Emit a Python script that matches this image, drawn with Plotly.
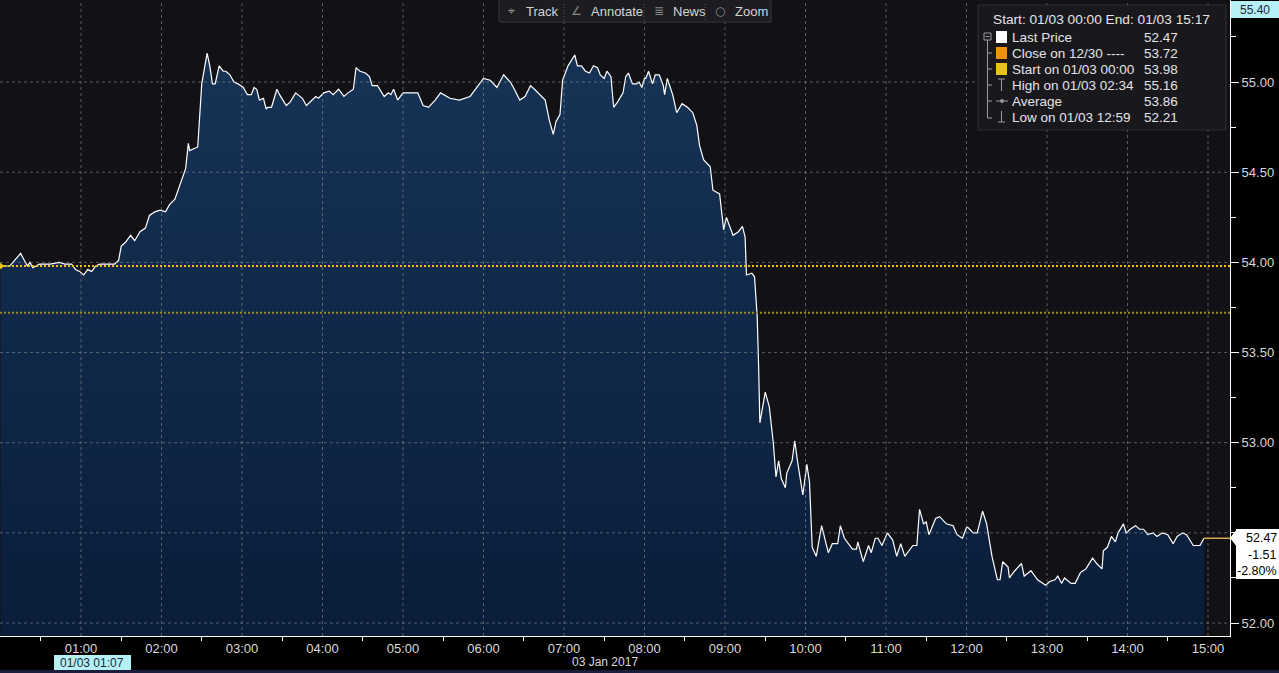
import plotly.graph_objects as go

DAY = "2017-01-03"

times = [
    "00:00", "00:07", "00:15", "00:20", "00:22", "00:24", "00:29", "00:37", "00:44", "00:48",
    "00:53", "00:56", "00:59", "01:02", "01:05", "01:08", "01:11", "01:14", "01:19", "01:25",
    "01:28", "01:30", "01:33", "01:37", "01:40", "01:44", "01:48", "01:51", "01:55", "01:59",
    "02:03", "02:06", "02:10", "02:14", "02:18", "02:20", "02:21", "02:27", "02:30", "02:34",
    "02:36", "02:38", "02:40", "02:43", "02:46", "02:48", "02:51", "02:54", "02:57", "03:01",
    "03:04", "03:07", "03:09", "03:11", "03:13", "03:16", "03:18", "03:19", "03:22", "03:26",
    "03:28", "03:33", "03:36", "03:40", "03:45", "03:48", "03:52", "03:55", "03:57", "04:01",
    "04:05", "04:08", "04:12", "04:16", "04:19", "04:23", "04:25", "04:28", "04:32", "04:35",
    "04:37", "04:41", "04:46", "04:49", "04:51", "04:53", "04:56", "05:00", "05:04", "05:07",
    "05:11", "05:15", "05:19", "05:24", "05:28", "05:35", "05:42", "05:50", "05:56", "06:00",
    "06:05", "06:10", "06:15", "06:20", "06:23", "06:27", "06:31", "06:35", "06:38", "06:42",
    "06:46", "06:49", "06:52", "06:54", "06:57", "06:59", "07:03", "07:08", "07:10", "07:13",
    "07:16", "07:19", "07:22", "07:25", "07:27", "07:30", "07:32", "07:35", "07:37", "07:40",
    "07:44", "07:46", "07:48", "07:51", "07:54", "07:56", "07:58", "08:00", "08:01", "08:03",
    "08:06", "08:08", "08:11", "08:14", "08:15", "08:17", "08:19", "08:21", "08:24", "08:28",
    "08:32", "08:36", "08:39", "08:41", "08:44", "08:49", "08:51", "08:56", "08:59", "09:01",
    "09:06", "09:10", "09:13", "09:15", "09:16", "09:20", "09:22", "09:24", "09:25", "09:26",
    "09:30", "09:33", "09:36", "09:38", "09:40", "09:42", "09:45", "09:46", "09:50", "09:52",
    "09:54", "09:58", "10:01", "10:03", "10:05", "10:08", "10:12", "10:17", "10:20", "10:24",
    "10:26", "10:29", "10:35", "10:38", "10:39", "10:43", "10:47", "10:49", "10:52", "10:54",
    "10:57", "11:01", "11:05", "11:08", "11:11", "11:14", "11:20", "11:23", "11:25", "11:28",
    "11:30", "11:32", "11:37", "11:40", "11:45", "11:50", "11:53", "11:57", "12:00", "12:01",
    "12:05", "12:08", "12:12", "12:15", "12:19", "12:23", "12:25", "12:27", "12:31", "12:32",
    "12:36", "12:41", "12:43", "12:48", "12:53", "12:59", "13:02", "13:06", "13:08", "13:11",
    "13:13", "13:18", "13:21", "13:25", "13:29", "13:34", "13:37", "13:41", "13:42", "13:45",
    "13:48", "13:51", "13:53", "13:57", "13:59", "14:02", "14:06", "14:09", "14:12", "14:15",
    "14:19", "14:22", "14:26", "14:30", "14:34", "14:37", "14:41", "14:44", "14:49", "14:54",
    "14:57",
]

prices = [
    53.98, 53.98, 54.05, 53.98, 54.00, 53.97, 53.99, 53.99, 54.00, 53.99,
    53.99, 53.96, 53.95, 53.93, 53.96, 53.95, 53.98, 53.99, 53.99, 53.99,
    54.01, 54.09, 54.11, 54.15, 54.12, 54.17, 54.19, 54.26, 54.28, 54.29,
    54.28, 54.32, 54.35, 54.43, 54.52, 54.66, 54.62, 54.64, 54.99, 55.16,
    55.09, 54.99, 54.99, 55.09, 55.06, 55.06, 55.04, 55.00, 54.99, 54.97,
    54.93, 54.93, 54.97, 54.96, 54.90, 54.91, 54.85, 54.86, 54.86, 54.96,
    54.93, 54.87, 54.89, 54.94, 54.91, 54.87, 54.90, 54.92, 54.91, 54.94,
    54.95, 54.93, 54.96, 54.92, 54.94, 54.96, 55.08, 55.06, 55.05, 55.03,
    54.98, 54.98, 54.92, 54.94, 54.93, 54.96, 54.90, 54.94, 54.94, 54.94,
    54.94, 54.87, 54.86, 54.90, 54.94, 54.91, 54.90, 54.92, 54.98, 55.02,
    55.01, 54.97, 55.04, 55.00, 54.96, 54.90, 54.92, 54.98, 54.96, 54.93,
    54.90, 54.79, 54.71, 54.78, 54.82, 55.01, 55.09, 55.15, 55.09, 55.09,
    55.06, 55.05, 55.09, 55.08, 55.04, 55.02, 55.06, 55.03, 54.86, 54.89,
    54.94, 55.03, 55.05, 54.99, 54.99, 55.00, 54.97, 55.02, 55.02, 55.06,
    54.99, 55.04, 55.04, 54.98, 54.93, 55.02, 54.97, 54.93, 54.83, 54.88,
    54.86, 54.83, 54.76, 54.65, 54.57, 54.53, 54.40, 54.38, 54.18, 54.25,
    54.15, 54.17, 54.20, 54.14, 53.93, 53.94, 53.92, 53.70, 53.44, 53.11,
    53.28, 53.20, 53.00, 52.81, 52.90, 52.80, 52.75, 52.83, 52.90, 53.01,
    52.90, 52.71, 52.88, 52.78, 52.42, 52.37, 52.54, 52.39, 52.44, 52.44,
    52.54, 52.47, 52.41, 52.41, 52.45, 52.34, 52.43, 52.39, 52.47, 52.47,
    52.43, 52.50, 52.46, 52.37, 52.44, 52.37, 52.43, 52.43, 52.63, 52.55,
    52.56, 52.49, 52.58, 52.59, 52.55, 52.54, 52.49, 52.47, 52.53, 52.53,
    52.50, 52.50, 52.62, 52.55, 52.37, 52.24, 52.24, 52.34, 52.31, 52.25,
    52.29, 52.33, 52.26, 52.29, 52.24, 52.21, 52.23, 52.24, 52.26, 52.22,
    52.25, 52.22, 52.22, 52.28, 52.30, 52.36, 52.33, 52.30, 52.40, 52.42,
    52.48, 52.45, 52.50, 52.55, 52.50, 52.52, 52.54, 52.52, 52.52, 52.49,
    52.50, 52.48, 52.50, 52.49, 52.44, 52.48, 52.50, 52.49, 52.43, 52.43,
    52.47,
]

last_price = 52.47
net_change = "-1.51"
pct_change = "-2.80%"
prev_close = 53.72
start_price = 53.98
range_top_label = "55.40"

hour_ticks = ["01:00", "02:00", "03:00", "04:00", "05:00", "06:00", "07:00", "08:00",
              "09:00", "10:00", "11:00", "12:00", "13:00", "14:00", "15:00"]
half_hour_ticks = ["00:30", "01:30", "02:30", "03:30", "04:30", "05:30", "06:30", "07:30",
                   "08:30", "09:30", "10:30", "11:30", "12:30", "13:30", "14:30"]
price_ticks = [52.0, 52.5, 53.0, 53.5, 54.0, 54.5, 55.0]
price_tick_text = ["52.00", "", "53.00", "53.50", "54.00", "54.50", "55.00"]  # 52.50 hidden by last-price tag

legend_header = "Start: 01/03 00:00 End: 01/03 15:17"
legend_labels = ["Last Price", "Close on 12/30 ----", "Start on 01/03 00:00",
                 "High on 01/03 02:34", "Average", "Low on 01/03 12:59"]
legend_values = ["52.47", "53.72", "53.98", "55.16", "53.86", "52.21"]

toolbar_items = ["Track", "Annotate", "News", "Zoom"]
toolbar_icons = ["⌖", "∠", "≣", "○"]

x_start = "2017-01-02 23:59:38"
x_end = "2017-01-03 15:16:24"
y_low, y_high = 51.928, 55.455

# ---------------- layout helpers (pixel -> paper) -----------------
PLOT_W, PLOT_H = 1230, 636


def px(x):
    return x / PLOT_W


def py(y):
    return 1 - y / PLOT_H


FONT = "Liberation Sans"
TXT = "#d8d8d8"

xs = [f"{DAY} {t}" for t in times]

fig = go.Figure()
fig.add_trace(go.Scatter(
    x=xs, y=prices, mode="lines",
    line=dict(color="#ffffff", width=1.2),
    fill="tozeroy",
    fillgradient=dict(type="vertical",
                      colorscale=[[0, "#0a1d3a"], [1, "#163356"]],
                      start=y_low, stop=55.2),
    hoverinfo="skip",
))
fig.add_trace(go.Scatter(
    x=[xs[-1], x_end], y=[last_price, last_price], mode="lines",
    line=dict(color="#d8a650", width=1.5), hoverinfo="skip",
))
fig.add_trace(go.Scatter(
    x=[xs[0]], y=[start_price], mode="markers",
    marker=dict(symbol="triangle-right", size=8, color="#e8c41a"),
    cliponaxis=False, hoverinfo="skip",
))

shapes = []
grid_col = "rgba(150,150,150,0.55)"
for h in hour_ticks:
    shapes.append(dict(type="line", xref="x", yref="paper", x0=f"{DAY} {h}", x1=f"{DAY} {h}",
                       y0=0, y1=1, line=dict(color=grid_col, width=1, dash="3px,3px"), layer="above"))
for p in price_ticks:
    shapes.append(dict(type="line", xref="paper", yref="y", x0=0, x1=1, y0=p, y1=p,
                       line=dict(color=grid_col, width=1, dash="3px,3px"), layer="above"))

# reference lines
shapes.append(dict(type="line", xref="paper", yref="y", x0=0, x1=1, y0=start_price, y1=start_price,
                   line=dict(color="#e8c41a", width=2, dash="2px,2px"), layer="above"))
shapes.append(dict(type="line", xref="paper", yref="y", x0=0, x1=1, y0=prev_close, y1=prev_close,
                   line=dict(color="#9c8628", width=2, dash="2px,2px"), layer="above"))

# toolbar
shapes.append(dict(type="rect", xref="paper", yref="paper", x0=px(499), x1=px(771), y0=py(22), y1=py(-1),
                   fillcolor="#1d1d21", line=dict(color="#34343a", width=1), layer="above"))
for sx in [564, 644, 705]:
    shapes.append(dict(type="line", xref="paper", yref="paper", x0=px(sx), x1=px(sx), y0=py(20), y1=py(2),
                       line=dict(color="#555", width=1, dash="1px,2px"), layer="above"))

# legend panel
shapes.append(dict(type="rect", xref="paper", yref="paper", x0=px(978), x1=px(1226), y0=py(130), y1=py(5),
                   fillcolor="#19181d", line=dict(color="#2e2e33", width=1), layer="above"))
sq = [("#ffffff", 37), ("#f0920e", 53), ("#e8c41a", 69)]
for col, cy in sq:
    shapes.append(dict(type="rect", xref="paper", yref="paper", x0=px(996), x1=px(1007),
                       y0=py(cy + 6), y1=py(cy - 6), fillcolor=col, line=dict(width=0), layer="above"))
tree = "#9a9a9a"
shapes.append(dict(type="rect", xref="paper", yref="paper", x0=px(984), x1=px(991), y0=py(40), y1=py(33),
                   line=dict(color=tree, width=1), layer="above"))
shapes.append(dict(type="line", xref="paper", yref="paper", x0=px(985.5), x1=px(989.5), y0=py(36.5), y1=py(36.5),
                   line=dict(color=tree, width=1), layer="above"))
shapes.append(dict(type="line", xref="paper", yref="paper", x0=px(987.5), x1=px(987.5), y0=py(118), y1=py(40),
                   line=dict(color=tree, width=1), layer="above"))
for cy in [53, 69, 85, 101, 118]:
    shapes.append(dict(type="line", xref="paper", yref="paper", x0=px(987.5), x1=px(992), y0=py(cy), y1=py(cy),
                       line=dict(color=tree, width=1), layer="above"))
# high symbol
shapes.append(dict(type="line", xref="paper", yref="paper", x0=px(998), x1=px(1005), y0=py(79), y1=py(79),
                   line=dict(color=tree, width=1), layer="above"))
shapes.append(dict(type="line", xref="paper", yref="paper", x0=px(1001.5), x1=px(1001.5), y0=py(91), y1=py(79),
                   line=dict(color=tree, width=1), layer="above"))
# average symbol
shapes.append(dict(type="line", xref="paper", yref="paper", x0=px(996), x1=px(1008), y0=py(101), y1=py(101),
                   line=dict(color=tree, width=1), layer="above"))
shapes.append(dict(type="circle", xref="paper", yref="paper", x0=px(1000), x1=px(1004), y0=py(103), y1=py(99),
                   fillcolor=tree, line=dict(width=0), layer="above"))
# low symbol
shapes.append(dict(type="line", xref="paper", yref="paper", x0=px(1001.5), x1=px(1001.5), y0=py(122), y1=py(111),
                   line=dict(color=tree, width=1), layer="above"))
shapes.append(dict(type="line", xref="paper", yref="paper", x0=px(998), x1=px(1005), y0=py(122), y1=py(122),
                   line=dict(color=tree, width=1), layer="above"))

# cyan boxes
cyan = "#b5f0f5"
shapes.append(dict(type="rect", xref="paper", yref="paper", x0=px(1231), x1=px(1279), y0=py(18), y1=py(1),
                   fillcolor=cyan, line=dict(width=0), layer="above"))
shapes.append(dict(type="rect", xref="paper", yref="paper", x0=px(54), x1=px(131), y0=py(671), y1=py(655),
                   fillcolor=cyan, line=dict(width=0), layer="above"))
# bottom strip
shapes.append(dict(type="rect", xref="paper", yref="paper", x0=px(0), x1=px(1279), y0=py(673), y1=py(670),
                   fillcolor="#1a1d3c", line=dict(width=0), layer="above"))

# last price tag
shapes.append(dict(type="rect", xref="paper", yref="paper", x0=px(1236), x1=px(1279), y0=py(579), y1=py(529),
                   fillcolor="#ffffff", line=dict(width=0), layer="above"))
shapes.append(dict(type="path", xref="paper", yref="paper",
                   path=f"M {px(1237)},{py(529)} L {px(1230)},{py(538)} L {px(1237)},{py(547)} Z",
                   fillcolor="#ffffff", line=dict(width=0), layer="above"))

ann = []


def text(x, y, s, size=13, color="#e4e4e4", anchor="left", family=FONT):
    ann.append(dict(xref="paper", yref="paper", x=px(x), y=py(y), text=s, showarrow=False,
                    xanchor=anchor, yanchor="middle", font=dict(family=family, size=size, color=color)))


# toolbar text
tb_icon_x = [511, 576, 659, 720]
tb_text_x = [524, 589, 671, 733]
for ic, ix, label, tx in zip(toolbar_icons, tb_icon_x, toolbar_items, tb_text_x):
    text(ix, 11, ic, size=12, color="#8a8a8a", anchor="center", family="DejaVu Sans")
    text(tx, 11, label, size=13, color="#d4d4d4")

# legend text
text(991, 20, legend_header, size=13.7)
rows_y = [37, 53, 69, 85, 101, 117]
for lbl, val, ry in zip(legend_labels, legend_values, rows_y):
    text(1010, ry, lbl, size=13.5)
    text(1142, ry, val, size=13.5)

text(1255, 10, range_top_label, size=12, color="#1e2a38", anchor="center")
text(92, 663, "01/03 01:07", size=12, color="#1e2a38", anchor="center")
text(605, 662, "03 Jan 2017", size=12, color=TXT, anchor="center")

text(1279, 538, f"{last_price:.2f}", size=12.5, color="#000000", anchor="right")
text(1279, 555, net_change, size=12.5, color="#000000", anchor="right")
text(1279, 571, pct_change, size=12.5, color="#000000", anchor="right")

fig.update_layout(
    width=1279, height=673,
    margin=dict(l=0, r=49, t=0, b=37, pad=0),
    paper_bgcolor="#000000", plot_bgcolor="#121116",
    showlegend=False,
    font=dict(family=FONT, size=13, color=TXT),
    shapes=shapes, annotations=ann,
    xaxis=dict(type="date", range=[x_start, x_end], showgrid=False, zeroline=False,
               tickvals=[f"{DAY} {h}" for h in hour_ticks], ticktext=hour_ticks,
               ticks="", showline=True, linecolor="#ffffff", linewidth=1,
               tickfont=dict(family=FONT, size=13, color=TXT),
               minor=dict(tickvals=[f"{DAY} {h}" for h in half_hour_ticks], ticks="outside",
                          ticklen=4, tickcolor="#ffffff", tickwidth=1, showgrid=False)),
    yaxis=dict(side="right", range=[y_low, y_high], showgrid=False, zeroline=False,
               tickvals=price_ticks, ticktext=price_tick_text, ticks="outside", ticklen=8,
               tickcolor="#ffffff", tickwidth=1, showline=True, linecolor="#ffffff", linewidth=1,
               tickfont=dict(family=FONT, size=13, color=TXT),
               minor=dict(dtick=0.25, tick0=52.0, ticks="outside", ticklen=5,
                          tickcolor="#ffffff", showgrid=False)),
)

fig.write_html(
    "out.html",
    config={"displayModeBar": False},
    post_script="document.body.style.margin='0';document.body.style.background='#000';",
)
